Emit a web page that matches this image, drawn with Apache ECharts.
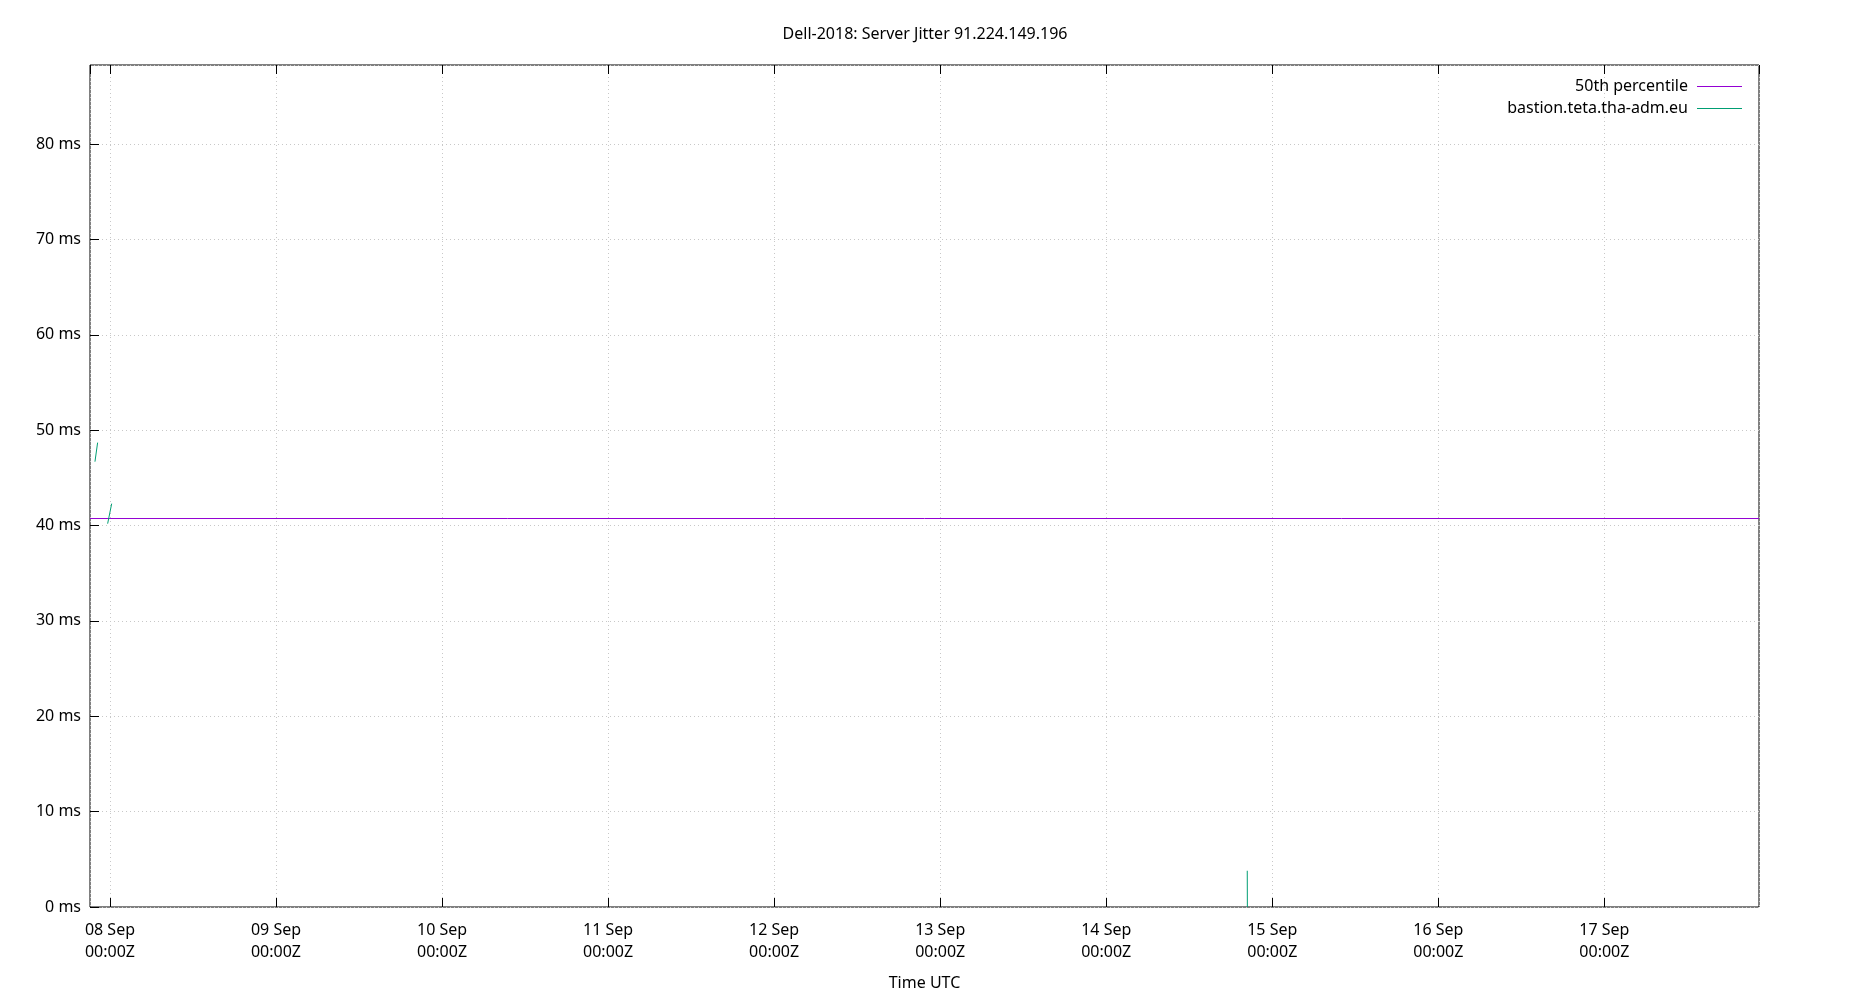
<!DOCTYPE html>
<html>
<head>
<meta charset="utf-8">
<title>Dell-2018: Server Jitter 91.224.149.196</title>
<script src="https://cdn.jsdelivr.net/npm/echarts@6/dist/echarts.min.js"></script>
<style>
html, body { margin: 0; padding: 0; background: #fff; }
#main { width: 1850px; height: 1000px; }
</style>
</head>
<body>
<div id="main"></div>
<script>
// x range of the plot (UTC)
var xStart = '2018-09-07T21:07:00Z';
var xEnd = '2018-09-17T22:21:00Z';
// y axis
var yMax = 88.3;
var yStep = 10;
// 50th percentile of the jitter (ms)
var medianValue = 40.74;
// bastion.teta.tha-adm.eu samples, null = gap in the data
var jitterTimes = [
	'2018-09-07T21:50:00Z', '2018-09-07T22:13:00Z', '2018-09-07T22:50:00Z',
	'2018-09-07T23:40:00Z', '2018-09-08T00:15:00Z', '2018-09-10T00:00:00Z',
	'2018-09-14T20:23:00Z', '2018-09-14T20:24:00Z'
];
var jitterValues = [46.7, 48.7, null, 40.2, 42.3, null, 3.8, 0];
var seriesNames = ['50th percentile', 'bastion.teta.tha-adm.eu'];
var seriesColors = ['#9400d3', '#009e73'];

var font = 'Noto Sans';
var myChart = echarts.init(document.getElementById('main'));
var DAY = 24 * 3600 * 1000;
var months = ['Jan','Feb','Mar','Apr','May','Jun','Jul','Aug','Sep','Oct','Nov','Dec'];
function pad(n){ return (n < 10 ? '0' : '') + n; }
function _timeLabel(v){
	var d = new Date(v);
	return pad(d.getUTCDate()) + ' ' + months[d.getUTCMonth()] + '\n'
		+ pad(d.getUTCHours()) + ':' + pad(d.getUTCMinutes()) + 'Z';
}

var jitterData = [];
for (var i = 0; i < jitterTimes.length; i++) {
	jitterData.push([jitterTimes[i], jitterValues[i]]);
}
var medianData = [[xStart, medianValue], [xEnd, medianValue]];

var option = {
	animation: false,
	useUTC: true,
	textStyle: { fontFamily: font },
	title: {
		text: 'Dell-2018: Server Jitter 91.224.149.196',
		left: 'center',
		top: 21,
		textStyle: { fontFamily: font, fontSize: 16, fontWeight: 'normal', color: '#000' }
	},
	legend: {
		orient: 'vertical',
		right: 103,
		top: 73,
		align: 'right',
		itemWidth: 45,
		itemHeight: 1,
		itemGap: 5,
		icon: 'rect',
		data: seriesNames,
		textStyle: { fontFamily: font, fontSize: 16, color: '#000', lineHeight: 17, padding: [0, 4, 0, 0] }
	},
	grid: {
		left: 90, right: 91, top: 65, bottom: 93,
		show: true, borderColor: '#000', borderWidth: 1
	},
	xAxis: [{
		type: 'time',
		min: xStart,
		max: xEnd,
		minInterval: DAY,
		maxInterval: DAY,
		name: 'Time UTC',
		nameLocation: 'middle',
		nameGap: 68,
		nameTextStyle: { fontFamily: font, fontSize: 16, color: '#000' },
		axisLine: { show: false },
		axisTick: { show: true, inside: true, length: 9, lineStyle: { color: '#000' } },
		axisLabel: {
			formatter: _timeLabel,
			showMinLabel: false,
			showMaxLabel: false,
			margin: 12,
			fontFamily: font, fontSize: 16, color: '#000', lineHeight: 22
		},
		splitLine: { show: true, lineStyle: { color: '#c8c8c8', type: [1, 3] } }
	}, {
		type: 'time',
		position: 'top',
		min: xStart,
		max: xEnd,
		minInterval: DAY,
		maxInterval: DAY,
		axisLine: { show: false },
		axisTick: { show: true, inside: true, length: 9, lineStyle: { color: '#000' } },
		axisLabel: { show: false },
		splitLine: { show: false }
	}],
	yAxis: {
		type: 'value',
		min: 0,
		max: yMax,
		interval: yStep,
		axisLine: { show: false },
		axisTick: { show: true, inside: true, length: 9, lineStyle: { color: '#000' } },
		axisLabel: {
			formatter: '{value} ms',
			showMaxLabel: false,
			margin: 9,
			fontFamily: font, fontSize: 16, color: '#000'
		},
		splitLine: { show: true, lineStyle: { color: '#c8c8c8', type: [1, 3] } }
	},
	series: [{
		name: seriesNames[0],
		type: 'line',
		data: medianData,
		showSymbol: false,
		color: seriesColors[0],
		lineStyle: { width: 1, color: seriesColors[0] }
	}, {
		name: seriesNames[1],
		type: 'line',
		data: jitterData,
		showSymbol: false,
		connectNulls: false,
		color: seriesColors[1],
		lineStyle: { width: 1, color: seriesColors[1] }
	}]
};
myChart.setOption(option, true);
</script>
</body>
</html>
